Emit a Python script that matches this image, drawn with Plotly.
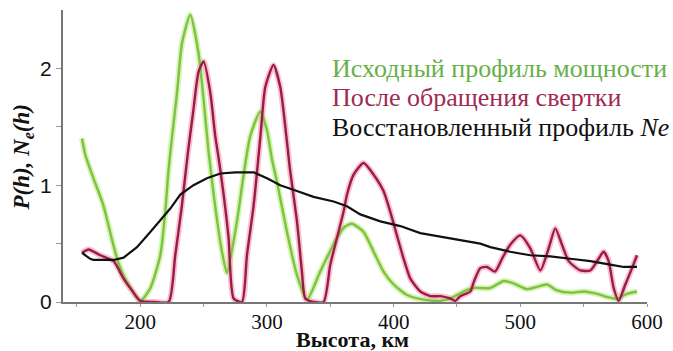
import plotly.graph_objects as go

# --- data ---
green_h = [154, 156.6, 163, 170.8, 178.7, 182.6, 189.5, 200, 208, 215.8, 219.7, 222, 223.7, 229, 233, 239.5,
           246, 250, 254, 259, 264.5, 268.4, 276.3, 281.6, 286.8, 294.7, 300, 304, 307.9, 315.8, 323.7, 331.6,
           342, 355.3, 361, 367, 376.3, 384.2, 392, 400, 410.5, 423.7, 436.8, 444.7, 455.2, 463, 476.3, 486.8,
           494.7, 505.3, 513.1, 521, 528.9, 539.5, 550, 560.5, 569.7, 576.3, 584.2, 592.1]
green_p = [1.40, 1.26, 1.06, 0.83, 0.49, 0.34, 0.17, 0.01, 0.12, 0.40, 0.77, 1.09, 1.28, 1.79, 2.22, 2.46,
           2.13, 1.73, 1.28, 0.83, 0.43, 0.25, 0.69, 1.09, 1.42, 1.63, 1.47, 1.22, 1.03, 0.60, 0.23, 0.02,
           0.26, 0.55, 0.64, 0.67, 0.60, 0.43, 0.26, 0.15, 0.06, 0.02, 0.01, 0.03, 0.09, 0.12, 0.12, 0.18,
           0.16, 0.11, 0.13, 0.15, 0.10, 0.08, 0.09, 0.07, 0.04, 0.03, 0.07, 0.09]

red_h = [154, 159.2, 168.4, 179, 186.8, 193.4, 200, 211, 222.4, 227.6, 232.9, 237.5, 242, 246, 250, 255.3,
         259.2, 262, 265.8, 269.7, 273.7, 280.3, 284.2, 289.5, 294.7, 298.7, 305.2, 310.5, 314.5, 318,
         323.7, 327.6, 330.3, 337, 344.7, 350, 355.3, 360.4, 363.2, 368.4, 376.3, 384.2, 392, 397.4, 402.6,
         407.9, 413.2, 421.1, 429, 436.8, 444.7, 448.7, 452.6, 460.5, 463.2, 468.4, 473.7, 480, 486, 492,
         500, 507.9, 515.8, 522.4, 527.6, 532.9, 538.2, 547.4, 555.3, 561.8, 565.8, 569.7, 573.7, 577.6,
         582.9, 588.2, 592.1]
red_p = [0.42, 0.45, 0.40, 0.35, 0.20, 0.10, 0.01, 0.0, 0.0, 0.40, 0.83, 1.27, 1.65, 1.97, 2.06, 1.79,
         1.42, 1.22, 0.92, 0.55, 0.03, 0.0, 0.40, 0.83, 1.40, 1.84, 2.03, 1.84, 1.50, 1.15,
         0.69, 0.26, 0.03, 0.0, 0.0, 0.32, 0.55, 0.77, 0.92, 1.09, 1.19, 1.09, 0.95, 0.77, 0.57,
         0.37, 0.20, 0.09, 0.05, 0.05, 0.03, 0.01, 0.05, 0.09, 0.17, 0.29, 0.30, 0.26, 0.38, 0.49,
         0.57, 0.46, 0.27, 0.46, 0.63, 0.49, 0.35, 0.27, 0.27, 0.37, 0.43, 0.35, 0.12, 0.01,
         0.15, 0.29, 0.40]

black_h = [154, 160.5, 163, 179, 186.8, 197.4, 207.9, 215.8, 223.7, 231.6, 242, 252.6, 263.2, 275, 289.5,
           300, 310.5, 323.7, 336.8, 352.6, 363.2, 373.7, 389.5, 405.3, 421, 436.8, 452.6, 468.4, 476.3,
           492, 507.9, 523.7, 539.5, 555.3, 571, 581.6, 592.1]
black_n = [0.42, 0.37, 0.36, 0.36, 0.38, 0.47, 0.60, 0.70, 0.80, 0.92, 1.00, 1.06, 1.10, 1.11, 1.11,
           1.06, 1.00, 0.95, 0.90, 0.86, 0.82, 0.75, 0.69, 0.65, 0.59, 0.56, 0.53, 0.50, 0.47,
           0.43, 0.40, 0.39, 0.37, 0.35, 0.32, 0.30, 0.30]

legend_texts = ["Исходный профиль мощности", "После обращения свертки", "Восстановленный профиль <i>Ne</i>"]
x_title = "<b>Высота, км</b>"
y_title = "<b><i>P(h), N<sub>e</sub>(h)</i></b>"
x_ticks = [200, 300, 400, 500, 600]
x_minor_ticks = [150, 200, 250, 300, 350, 400, 450, 500, 550, 600]
y_ticks = [0, 1, 2]

GREEN = "#7cc243"
GREEN_HALO = "rgba(200,240,150,0.7)"
RED = "#9a1c45"
RED_HALO = "rgba(245,170,190,0.7)"

fig = go.Figure()
# halos
fig.add_trace(go.Scatter(x=green_h, y=green_p, mode="lines", line=dict(color=GREEN_HALO, width=6, shape="spline", smoothing=0.6), hoverinfo="skip"))
fig.add_trace(go.Scatter(x=red_h, y=red_p, mode="lines", line=dict(color=RED_HALO, width=6, shape="spline", smoothing=0.6), hoverinfo="skip"))
# main lines
fig.add_trace(go.Scatter(x=green_h, y=green_p, mode="lines", line=dict(color=GREEN, width=2.4, shape="spline", smoothing=0.6)))
fig.add_trace(go.Scatter(x=red_h, y=red_p, mode="lines", line=dict(color=RED, width=2.4, shape="spline", smoothing=0.6)))
fig.add_trace(go.Scatter(x=black_h, y=black_n, mode="lines", line=dict(color="#111111", width=2.2)))

serif = "Liberation Serif"
sans = "Liberation Sans"
colors = ["#68b04a", "#a12a55", "#111111"]
ys = [0.801, 0.702, 0.599]
for t, c, yy in zip(legend_texts, colors, ys):
    fig.add_annotation(text=t, x=0.457, y=yy, xref="paper", yref="paper", xanchor="left", yanchor="middle",
                       showarrow=False, font=dict(family=serif, size=26, color=c))

# axis titles as annotations (positioned in paper coords)
fig.add_annotation(text=x_title, x=0.495, y=-0.127, xref="paper", yref="paper", xanchor="center", yanchor="middle",
                   showarrow=False, font=dict(family=serif, size=22, color="#111111"))
fig.add_annotation(text=y_title, x=-0.069, y=0.497, xref="paper", yref="paper", xanchor="center", yanchor="middle",
                   textangle=-90, showarrow=False, font=dict(family=serif, size=23, color="#111111"))

fig.update_layout(
    width=673, height=351,
    margin=dict(l=63, r=26, t=10, b=49),
    plot_bgcolor="white", paper_bgcolor="white",
    showlegend=False,
    font=dict(family=serif),
    xaxis=dict(range=[139, 600], tickvals=x_ticks, showline=True, linecolor="#777777", linewidth=2,
               ticks="", showgrid=False, zeroline=False, automargin=False,
               minor=dict(tickvals=x_minor_ticks, ticks="outside", ticklen=3, tickcolor="#999999"),
               tickfont=dict(family=serif, size=21, color="#111111")),
    yaxis=dict(range=[0, 2.5], tickvals=y_ticks, showline=True, linecolor="#777777", linewidth=2,
               ticks="outside", ticklen=5, tickcolor="#999999", showgrid=False, zeroline=False,
               automargin=False,
               minor=dict(tickvals=[0.5, 1.5], ticks="outside", ticklen=5, tickcolor="#999999"),
               tickfont=dict(family=sans, size=21, color="#111111")),
)

fig.write_html("out.html")
